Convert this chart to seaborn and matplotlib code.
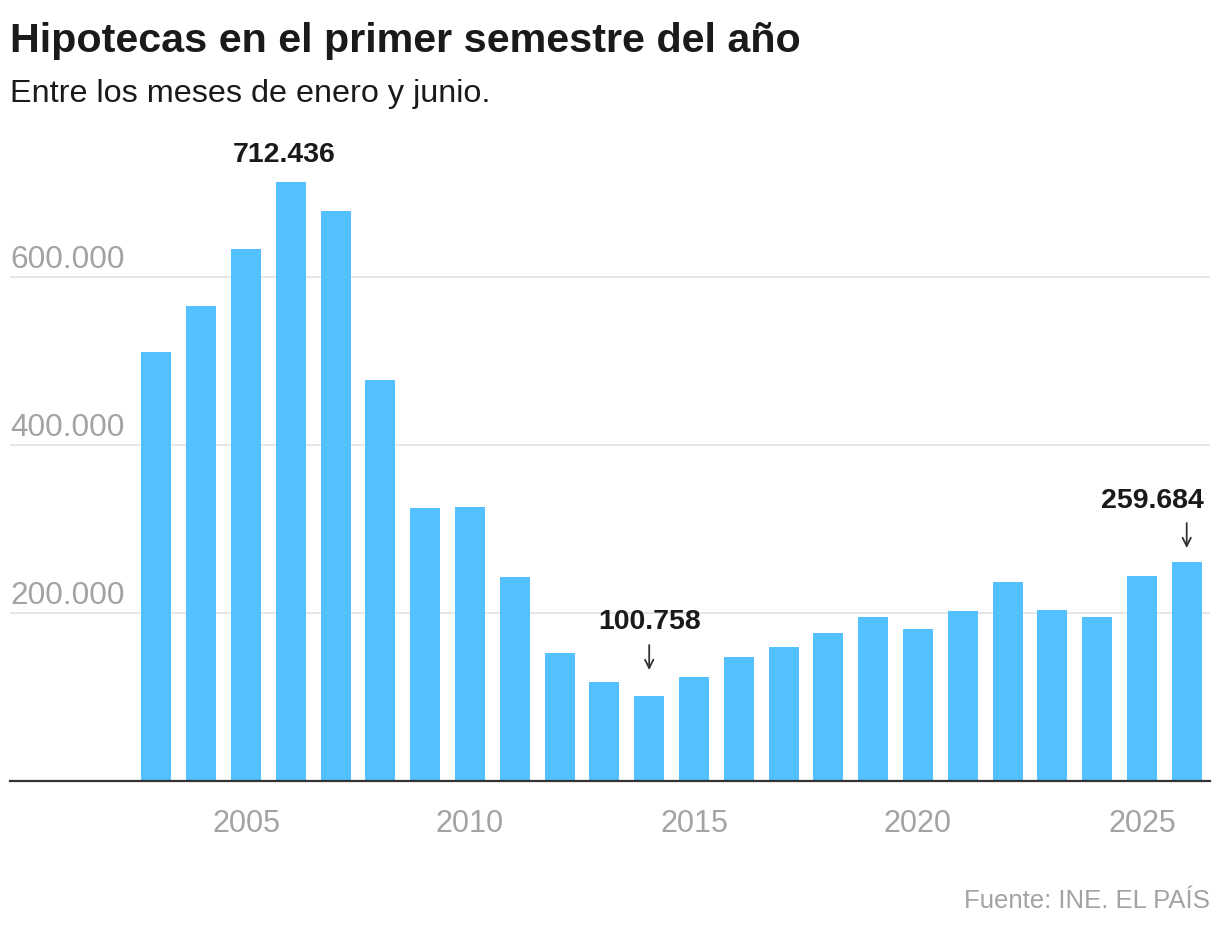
import numpy as np
import pandas as pd
import matplotlib
matplotlib.use('Agg')
import matplotlib.pyplot as plt
import seaborn as sns

# Datos: hipotecas constituidas entre enero y junio (INE)
years = list(range(2003, 2027))
hipotecas = [510400, 565100, 633000, 712436, 678200, 477100, 324800, 326000,
             242700, 152000, 117500, 100758, 123400, 147200, 159100, 175800,
             194800, 180500, 202000, 236500, 203200, 194800, 243600, 259684]

y_ticks = [200000, 400000, 600000]
x_ticks = [2005, 2010, 2015, 2020, 2025]

highlights = {2006: 712436, 2014: 100758, 2026: 259684}

title = 'Hipotecas en el primer semestre del año'
subtitle = 'Entre los meses de enero y junio.'
source = 'Fuente: INE. EL PAÍS'

BAR = '#53C1FF'
GREY = '#a3a3a3'
DARK = '#1a1a1a'


def fmt(v):
    return f'{v:,}'.replace(',', '.')


df = pd.DataFrame({'year': years, 'hipotecas': hipotecas})

sns.set_style('white')
plt.rcParams['font.family'] = ['Liberation Sans', 'DejaVu Sans']

W, H = 1220, 928
fig = plt.figure(figsize=(W / 100, H / 100), dpi=100)
ax = fig.add_axes([10 / W, (H - 781.7) / H, 1200 / W, 638.6 / H])

sns.barplot(data=df, x='year', y='hipotecas', native_scale=True, width=0.67,
            color=BAR, saturation=1, errorbar=None, linewidth=0, ax=ax)

ax.set_xlim(1999.73, 2026.52)
ax.set_ylim(0, 760000)

# grid
for v in y_ticks:
    ax.axhline(v, color='#e6e6e6', lw=1.4, zorder=0)
    ax.annotate(fmt(v), xy=(0, v), xycoords=('axes fraction', 'data'),
                xytext=(0.5, 7.2), textcoords='offset points',
                ha='left', va='baseline', fontsize=22.7, color=GREY)

ax.set_yticks([])
ax.set_xticks(x_ticks)
ax.set_xticklabels([str(x) for x in x_ticks], fontsize=22, color=GREY)
ax.tick_params(axis='x', length=7.5, width=1, color='#333333', pad=12, direction='out')
ax.set_xlabel('')
ax.set_ylabel('')

for s in ['top', 'right', 'left']:
    ax.spines[s].set_visible(False)
ax.spines['bottom'].set_color('#333333')
ax.spines['bottom'].set_linewidth(1.6)

# anotaciones
lbl_kw = dict(textcoords='offset points', va='baseline', fontsize=20.5,
              fontweight='bold', color=DARK)
arrow_kw = dict(arrowstyle='->,head_length=0.6,head_width=0.3', color='#333333',
                lw=1.3, shrinkA=0)

ax.annotate(fmt(highlights[2006]), xy=(2006, highlights[2006]),
            xytext=(-4.5, 15), ha='center', **lbl_kw)

ax.annotate(fmt(highlights[2014]), xy=(2014, highlights[2014]),
            xytext=(0, 48.7), ha='center', **lbl_kw)
ax.annotate('', xy=(2014, highlights[2014]), xytext=(0, 36.7),
            textcoords='offset points', arrowprops=dict(shrinkB=18.7, **arrow_kw))

ax.annotate(fmt(highlights[2026]), xy=(2026.37, highlights[2026]),
            xytext=(0, 40), ha='right', **lbl_kw)
ax.annotate('', xy=(2026, highlights[2026]), xytext=(0, 28.4),
            textcoords='offset points', arrowprops=dict(shrinkB=10.4, **arrow_kw))

# textos
fig.text(10 / W, 1 - 51.7 / H, title, fontsize=29.7, fontweight='bold',
         color=DARK, ha='left', va='baseline')
fig.text(10 / W, 1 - 101.7 / H, subtitle, fontsize=23.3, color=DARK,
         ha='left', va='baseline')
fig.text(1210 / W, 1 - 908 / H, source, fontsize=18.5, color=GREY,
         ha='right', va='baseline')

fig.savefig('out.png', dpi=100)
